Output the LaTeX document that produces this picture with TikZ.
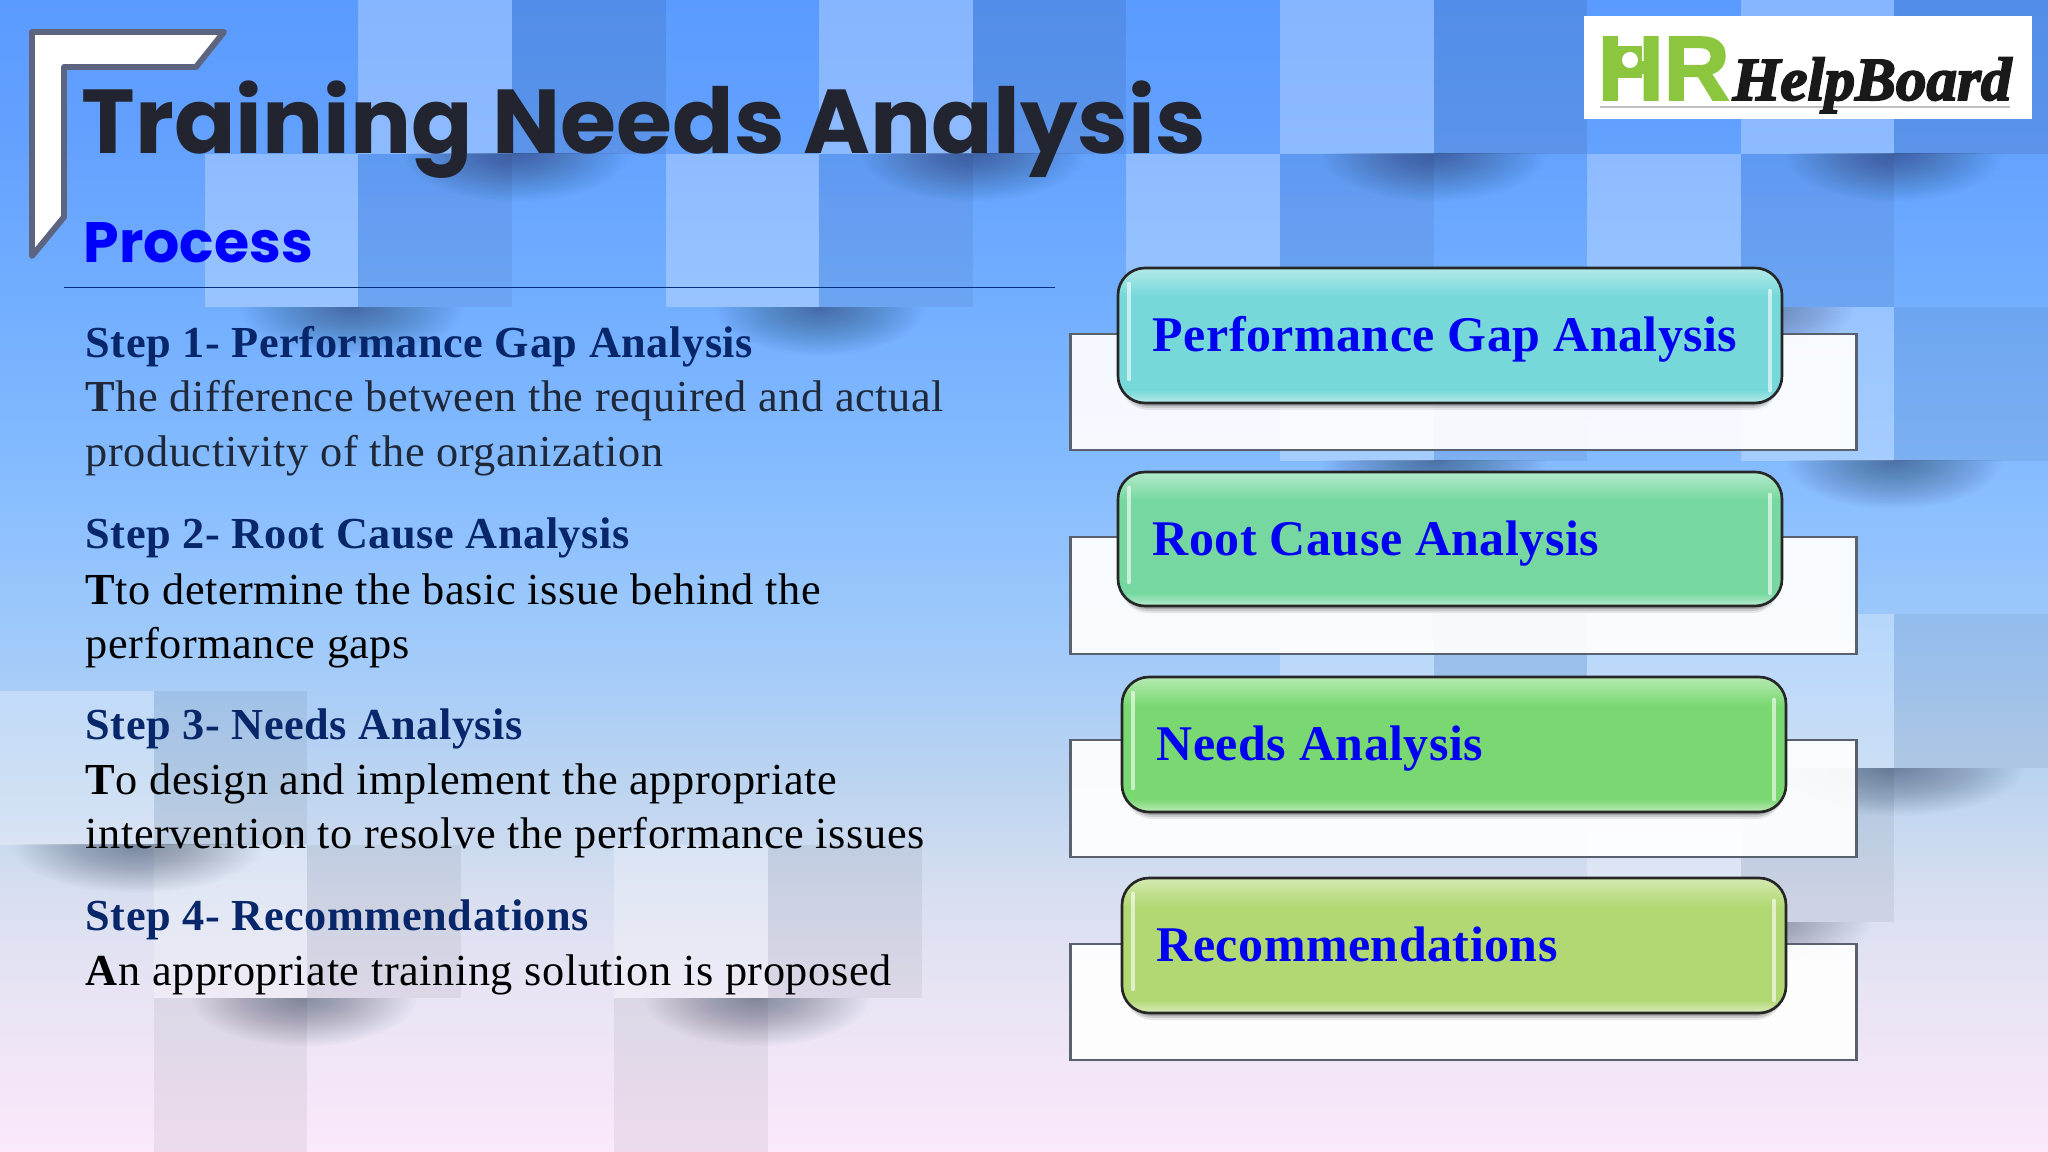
\documentclass[tikz,border=0pt]{standalone}
\usepackage{fontspec}
\setmainfont{Liberation Serif}
\newfontfamily\titlefont{Poppins}
\newfontfamily\logofont{Liberation Sans}
\usetikzlibrary{calc}
\definecolor{stephead}{HTML}{08266A}
\definecolor{titleink}{HTML}{22252F}
\definecolor{softink}{HTML}{1F2838}
\definecolor{shadowink}{HTML}{1C2A44}
\definecolor{frameedge}{HTML}{5C6480}
\definecolor{boxedge}{HTML}{59616E}
\definecolor{ruleline}{HTML}{00307F}
\definecolor{logogreen}{HTML}{8CC63F}
\definecolor{cyanbox}{HTML}{76D8D8}
\definecolor{mintbox}{HTML}{76D8A0}
\definecolor{greenbox}{HTML}{7AD872}
\definecolor{limebox}{HTML}{B2D874}
\definecolor{bga}{HTML}{FBE8FB}
\definecolor{bgb}{HTML}{E8E4F4}
\definecolor{bgc}{HTML}{D8DFF0}
\definecolor{bgd}{HTML}{BCD4F0}
\definecolor{bge}{HTML}{A0CAFA}
\definecolor{bgf}{HTML}{84BBFF}
\definecolor{bgg}{HTML}{72AEFF}
\definecolor{bgh}{HTML}{63A1FF}
\definecolor{bgi}{HTML}{5A9BFF}
\pgfdeclareverticalshading{bgfade}{100bp}{color(0bp)=(bga);color(25bp)=(bga);color(32bp)=(bgb);color(36bp)=(bgc);color(41bp)=(bgd);color(47bp)=(bge);color(55bp)=(bgf);color(62bp)=(bgg);color(69bp)=(bgh);color(75bp)=(bgi);color(100bp)=(bgi)}
\tikzset{
	lighttile/.style={fill=white, fill opacity=0.27},
	darktile/.style={fill=black, fill opacity=0.055},
	backbox/.style={fill=white, fill opacity=0.93, draw=boxedge, draw opacity=1, line width=0.85pt},
	frontbox/.style={rounded corners=0.27cm, draw=black!85, line width=0.75pt},
	headtext/.style={anchor=base west, inner sep=0pt, font=\fontsize{12.6}{15}\selectfont\bfseries\addfontfeature{LetterSpace=1.25}, text=stephead},
	bodytext/.style={anchor=base west, inner sep=0pt, font=\fontsize{12.6}{15}\selectfont\addfontfeature{LetterSpace=1.3}},
	boxtext/.style={anchor=base west, inner sep=0pt, font=\fontsize{14.2}{17}\selectfont\bfseries\addfontfeature{LetterSpace=1.0}, text=blue!95!black},
}
% soft shadow hanging under a tile edge: centre x, edge y, half width
\def\tileshadow(#1,#2,#3){\begin{scope}
	\clip (#1-#3,#2) rectangle (#1+#3,#2+60);
	\foreach \s in {1,0.97,...,0.04} {\fill[shadowink, opacity=0.014] (#1,#2) ellipse ({#3*\s} and {48*\s});}
\end{scope}}
% one glossy button: top y, left x, right x, bottom y, colour
\def\glossbox(#1,#2,#3,#4,#5){
	\foreach \d/\o in {7/0.08,5/0.12,3/0.18} {\fill[black, opacity=\o, rounded corners=0.27cm] (#2+3,#1+3) rectangle (#3-3,#4+\d);}
	\fill[#5, rounded corners=0.27cm] (#2,#1) rectangle (#3,#4);
	\begin{scope}
		\clip[rounded corners=0.27cm] (#2,#1) rectangle (#3,#4);
		\shade[top color=#5!55!white, bottom color=#5] (#2,#1) rectangle (#3,#1+28);
		\shade[bottom color=#5!50!white, top color=#5] (#2,#4-13) rectangle (#3,#4);
	\end{scope}
	\draw[frontbox] (#2,#1) rectangle (#3,#4);
	\draw[white, opacity=0.6, line width=1.3pt, line cap=round] (#2+11,#1+16) -- (#2+11,#4-24);
	\draw[white, opacity=0.6, line width=1.3pt, line cap=round] (#3-12,#1+23) -- (#3-12,#4-13);
}

\begin{document}
\begin{tikzpicture}[x=0.01cm, y=-0.01cm]
	\useasboundingbox (0,0) rectangle (2048,1152);
	%%%%% BACKGROUND %%%%%
	
	\shade[shading=bgfade] (0,0) rectangle (2048,1152);
	
	\foreach \tx/\ty in {358.4/0,819.2/0,1280/0,1740.8/0,204.8/153.6,665.6/153.6,1126.4/153.6,1587.2/153.6,1280/307.2,1740.8/307.2,1280/614.4,1587.2/614.4,1740.8/614.4,1587.2/768,0/691.2,153.6/844.8,614.4/844.8}
		{\path[lighttile] (\tx,\ty) rectangle ++(153.6,153.6);}
	\foreach \tx/\ty in {358.4/153.6,819.2/153.6,1280/153.6,1740.8/153.6,1433.6/307.2,1894.4/307.2,1433.6/614.4,1894.4/614.4,1740.8/768,153.6/691.2,307.2/844.8,768/844.8,153.6/998.4,614.4/998.4}
		{\path[darktile] (\tx,\ty) rectangle ++(153.6,153.6);}
	\foreach \tx in {512,972.8,1433.6,1894.4}
		{\path[darktile, fill opacity=0.085] (\tx,0) rectangle ++(153.6,153.6);}
	
	\tileshadow(516,153.6,112)
	\tileshadow(973,153.6,112)
	\tileshadow(1434,153.6,112)
	\tileshadow(1894,153.6,108)
	\tileshadow(352,307.2,112)
	\tileshadow(820,307.2,105)
	\tileshadow(1741,307.2,112)
	\tileshadow(1434,460.8,112)
	\tileshadow(1894,460.8,108)
	\tileshadow(1894,768,130)
	\tileshadow(1741,922,130)
	\tileshadow(137,844.8,125)
	\tileshadow(304,998.4,112)
	\tileshadow(757,998.4,112)
	
	%%%%% HEADER %%%%%
	
	\draw[fill=white, draw=frameedge, line width=1.7pt, line join=round] (32,32) -- (224,32) -- (196,67) -- (64,67) -- (64,217) -- (32,256) -- cycle;
	
	\node[anchor=base west, inner sep=0pt, text=titleink] (title) at (81,154) {\fontsize{25.8}{32}\selectfont\titlefont\bfseries Training Needs Analysis};
	\node[anchor=base west, inner sep=0pt, text=blue] (process) at (83,263) {\fontsize{16.2}{18}\selectfont\titlefont\bfseries Process};
	\draw[line width=0.55pt, color=ruleline] (64,287.5) -- (1055,287.5);
	
	%%%%% LOGO %%%%%
	
	\fill[white] (1584,16) rectangle (2032,119);
	\node[anchor=base west, inner sep=0pt, text=logogreen] (logohr) at (1597,100) {\fontsize{26}{30}\selectfont\logofont\bfseries\addfontfeature{FakeBold=2}HR};
	\fill[logogreen] (1618,46) rectangle (1642,78);
	\fill[white] (1630,60) circle (8);
	\draw[line width=0.4pt, color=black!25] (1600,107) -- (2010,107);
	\node[anchor=base west, inner sep=0pt, text=black!90] (logoname) at (1732,100) {\fontsize{17.4}{20}\selectfont\bfseries\itshape\addfontfeature{FakeBold=3}HelpBoard};
	
	%%%%% STEPS %%%%%
	
	\node[headtext] (stepa) at (85,358) {Step 1- Performance Gap Analysis};
	\node[bodytext, text=softink] (stepaa) at (85,412) {\textbf{T}he difference between the required and actual};
	\node[bodytext, text=softink] (stepab) at (85,467) {productivity of the organization};
	
	\node[headtext] (stepb) at (85,548) {Step 2- Root Cause Analysis};
	\node[bodytext] (stepba) at (85,604) {\textbf{T}to determine the basic issue behind the};
	\node[bodytext] (stepbb) at (85,658) {performance gaps};
	
	\node[headtext] (stepc) at (85,739) {Step 3- Needs Analysis};
	\node[bodytext] (stepca) at (85,794) {\textbf{T}o design and implement the appropriate};
	\node[bodytext] (stepcb) at (85,848) {intervention to resolve the performance issues};
	
	\node[headtext] (stepd) at (85,930) {Step 4- Recommendations};
	\node[bodytext] (stepda) at (85,985) {\textbf{A}n appropriate training solution is proposed};
	
	%%%%% BOXES %%%%%
	
	\draw[backbox] (1070,334) rectangle (1856,450);
	\draw[backbox] (1070,537) rectangle (1856,654);
	\draw[backbox] (1070,740) rectangle (1856,857);
	\draw[backbox] (1070,944) rectangle (1856,1060);
	
	\glossbox(268,1118,1782,403,cyanbox)
	\glossbox(472,1118,1782,606,mintbox)
	\glossbox(677,1122,1786,812,greenbox)
	\glossbox(878,1122,1786,1013,limebox)
	
	\node[boxtext] (gaplabel) at (1152,352) {Performance Gap Analysis};
	\node[boxtext] (rootlabel) at (1152,555) {Root Cause Analysis};
	\node[boxtext] (needslabel) at (1156,760) {Needs Analysis};
	\node[boxtext] (reclabel) at (1156,961) {Recommendations};
	
\end{tikzpicture}
\end{document}
